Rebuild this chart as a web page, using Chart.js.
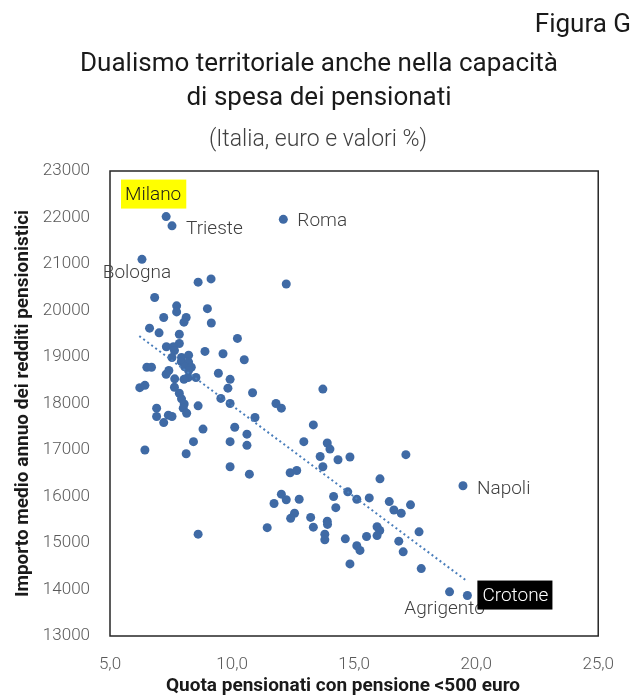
<!DOCTYPE html>
<html lang="it">
<head>
<meta charset="utf-8">
<title>Figura G</title>
<script src="https://cdn.jsdelivr.net/npm/chart.js@4.4.1/dist/chart.umd.min.js"></script>
<style>
  html, body { margin: 0; padding: 0; background: #fff; }
  #wrap { width: 633px; height: 695px; position: relative; }
</style>
</head>
<body>
<div id="wrap"><canvas id="chart"></canvas></div>
<script>
// ===== DATA =====
// quota pensionati con pensione <500 euro (%) / importo medio annuo (euro)
const quota = [
    8.61, 9.14, 6.83, 7.73, 7.73, 8.99, 7.20, 8.12, 8.03, 9.15,
    6.62, 7.01, 7.84, 7.84, 7.31, 7.60, 7.64, 8.89, 9.63, 10.22,
    10.50, 7.93, 8.22, 7.54, 7.92, 8.22, 6.51, 6.70, 7.41, 7.30,
    8.06, 8.33, 8.22, 8.20, 8.52, 8.03, 7.65, 9.44, 9.92, 9.83,
    10.84, 6.22, 6.43, 7.64, 7.84, 7.93, 9.54, 9.92, 11.80, 8.04,
    8.00, 8.61, 6.91, 6.91, 7.39, 7.54, 8.14, 7.20, 10.94, 8.81,
    10.11, 10.61, 8.42, 9.92, 10.61, 6.43, 8.12, 9.92, 10.71, 11.72,
    11.44, 8.61, 12.22, 13.72, 12.02, 13.33, 12.94, 13.90, 14.01, 13.61,
    14.34, 14.83, 17.12, 12.38, 12.65, 13.72, 16.06, 12.02, 12.22, 12.75,
    14.16, 14.74, 15.11, 15.62, 14.25, 16.44, 16.63, 16.93, 17.31, 12.56,
    12.40, 13.22, 13.33, 13.90, 13.91, 13.80, 13.80, 14.64, 15.51, 15.94,
    16.05, 15.94, 15.11, 15.24, 16.83, 17.01, 17.66, 14.83, 17.75
];
const importo = [
    20610, 20680, 20280, 20100, 19970, 20040, 19850, 19850, 19750, 19730,
    19620, 19520, 19490, 19290, 19220, 19220, 19140, 19120, 19070, 19400,
    18940, 18990, 19040, 18990, 18900, 18890, 18780, 18780, 18710, 18630,
    18790, 18780, 18710, 18560, 18560, 18520, 18530, 18650, 18520, 18330,
    18230, 18340, 18390, 18350, 18220, 18100, 18110, 18000, 18000, 17990,
    17900, 17950, 17900, 17720, 17750, 17720, 17790, 17590, 17700, 17450,
    17490, 17340, 17180, 17180, 17100, 17000, 16920, 16640, 16480, 15850,
    15330, 15190, 20570, 18310, 17900, 17540, 17180, 17150, 17020, 16860,
    16790, 16850, 16900, 16510, 16560, 16640, 16380, 16050, 15930, 15940,
    16000, 16100, 15940, 15970, 15760, 15890, 15710, 15640, 15820, 15640,
    15530, 15550, 15340, 15470, 15400, 15190, 15070, 15090, 15140, 15350,
    15270, 15160, 14940, 14840, 15040, 14810, 15240, 14550, 14450
];

const cityNames = ["Milano", "Trieste", "Bologna", "Roma", "Napoli", "Agrigento", "Crotone"];
const cityQuota = [7.30, 7.54, 6.31, 12.10, 19.46, 18.91, 19.64];
const cityImporto = [22020, 21820, 21100, 21960, 16230, 13950, 13870];

// linea di tendenza (estremi)
const trendQuota = [6.2, 19.65];
const trendImporto = [19450, 14170];

const xTicks = [5, 10, 15, 20, 25];
const yTicks = [13000, 14000, 15000, 16000, 17000, 18000, 19000, 20000, 21000, 22000, 23000];

// ===== STYLE =====
const DOT = "#3f6aa5";
const FONT = "Roboto, 'Liberation Sans', sans-serif";

const labelStyle = {
    Milano:    { dx: -13, dy: -22, align: "center", bg: "#ffff00", color: "#1a1a1a" },
    Trieste:   { dx: 14,  dy: 2,   align: "left",   color: "#404040" },
    Bologna:   { dx: -5,  dy: 13,  align: "center", color: "#404040" },
    Roma:      { dx: 14,  dy: 1,   align: "left",   color: "#404040" },
    Napoli:    { dx: 14,  dy: 2,   align: "left",   color: "#404040" },
    Agrigento: { dx: -5,  dy: 16,  align: "center", color: "#404040" },
    Crotone:   { dx: 15,  dy: 0,   align: "left",   bg: "#000000", color: "#ffffff" }
};

const points = quota.map((q, i) => ({ x: q, y: importo[i] }));
cityQuota.forEach((q, i) => points.push({ x: q, y: cityImporto[i] }));

const trend = trendQuota.map((q, i) => ({ x: q, y: trendImporto[i] }));

// ===== PLUGIN: titoli, cornice, etichette =====
const decorations = {
    id: "decorations",
    beforeDraw(chart) {
        const { ctx } = chart;
        ctx.save();
        ctx.fillStyle = "#fff";
        ctx.fillRect(0, 0, chart.width, chart.height);

        ctx.textBaseline = "middle";
        ctx.fillStyle = "#1a1a1a";
        ctx.font = "26px " + FONT;
        ctx.textAlign = "right";
        ctx.fillText("Figura G", 631, 25);

        ctx.textAlign = "center";
        ctx.fillText("Dualismo territoriale anche nella capacità", 319, 64);
        ctx.fillText("di spesa dei pensionati", 319, 98);

        ctx.fillStyle = "#404040";
        ctx.font = "300 23px " + FONT;
        ctx.fillText("(Italia, euro e valori %)", 318, 140);

        // titolo asse x
        ctx.fillStyle = "#1a1a1a";
        ctx.font = "bold 19px " + FONT;
        ctx.fillText("Quota pensionati con pensione <500 euro", 343, 686);
        ctx.restore();
    },
    afterDatasetsDraw(chart) {
        const { ctx, chartArea, scales: { x, y } } = chart;
        ctx.save();

        ctx.strokeStyle = "#262626";
        ctx.lineWidth = 1.5;
        ctx.strokeRect(chartArea.left, chartArea.top, chartArea.right - chartArea.left, chartArea.bottom - chartArea.top);

        ctx.font = "300 19px " + FONT;
        ctx.textBaseline = "middle";

        cityNames.forEach((name, i) => {
            const st = labelStyle[name];
            const px = x.getPixelForValue(cityQuota[i]) + st.dx;
            const py = y.getPixelForValue(cityImporto[i]) + st.dy;
            const w = ctx.measureText(name).width;

            if (st.bg) {
                const left = st.align === "center" ? px - w / 2 - 4 : px - 5;
                ctx.fillStyle = st.bg;
                ctx.fillRect(left, py - 15, w + 9, 29);
            }

            ctx.textAlign = st.align;
            ctx.fillStyle = st.color;
            ctx.fillText(name, px, py + 1);
        });

        ctx.restore();
    }
};

// ===== CHART =====
new Chart(document.getElementById("chart"), {
    type: "scatter",
    data: {
        datasets: [
            {
                type: "line",
                label: "Tendenza",
                data: trend,
                borderColor: "#4a7ebb",
                borderWidth: 2,
                borderDash: [2, 3],
                pointRadius: 0,
                fill: false,
                order: 0
            },
            {
                label: "Province",
                data: points,
                backgroundColor: DOT,
                borderWidth: 0,
                pointRadius: 4.5,
                pointHoverRadius: 4.5,
                order: 1
            }
        ]
    },
    options: {
        responsive: true,
        maintainAspectRatio: false,
        animation: false,
        events: [],
        layout: {
            padding: { top: 171, right: 30, bottom: 0, left: 0 }
        },
        plugins: {
            legend: { display: false },
            tooltip: { enabled: false }
        },
        scales: {
            x: {
                type: "linear",
                min: xTicks[0],
                max: xTicks[xTicks.length - 1],
                afterBuildTicks: (scale) => { scale.ticks = xTicks.map(v => ({ value: v })); },
                afterFit: (scale) => { scale.height = 59; },
                grid: { display: false, drawTicks: false, tickLength: 0 },
                border: { display: false },
                ticks: {
                    padding: 19,
                    color: "#595959",
                    font: { family: FONT, size: 17, weight: "300" },
                    callback: (v) => Number(v).toFixed(1).replace(".", ",")
                }
            },
            y: {
                type: "linear",
                min: yTicks[0],
                max: yTicks[yTicks.length - 1],
                afterBuildTicks: (scale) => { scale.ticks = yTicks.map(v => ({ value: v })); },
                afterFit: (scale) => { scale.width = 110; },
                grid: { display: false, drawTicks: false, tickLength: 0 },
                border: { display: false },
                ticks: {
                    padding: 20,
                    color: "#595959",
                    font: { family: FONT, size: 17, weight: "300" },
                    callback: (v) => String(v)
                },
                title: {
                    display: true,
                    text: "Importo medio annuo dei redditi pensionistici",
                    color: "#1a1a1a",
                    font: { family: FONT, size: 19, weight: "bold", lineHeight: 1 },
                    padding: { top: 14, bottom: 0 }
                }
            }
        }
    },
    plugins: [decorations]
});
</script>
</body>
</html>
